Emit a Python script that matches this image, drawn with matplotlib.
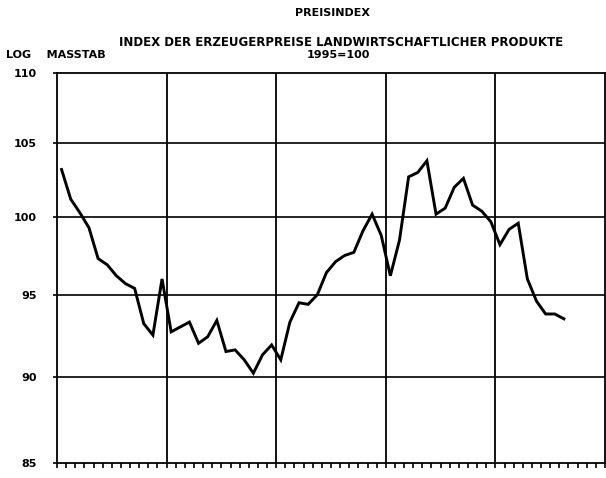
import matplotlib
matplotlib.use("Agg")
import matplotlib.pyplot as plt
from matplotlib.ticker import FixedLocator, NullLocator

# monthly index values, 1995=100
values = [103.2, 101.2, 100.3, 99.3, 97.3, 96.9, 96.2, 95.7, 95.4, 93.2,
          92.5, 96.0, 92.7, 93.0, 93.3, 92.0, 92.4, 93.4, 91.5, 91.6,
          91.0, 90.2, 91.3, 91.9, 91.0, 93.3, 94.5, 94.4, 95.0, 96.4,
          97.1, 97.5, 97.7, 99.1, 100.2, 98.8, 96.2, 98.5, 102.7, 103.0,
          103.8, 100.2, 100.6, 102.0, 102.6, 100.8, 100.4, 99.7, 98.2, 99.2,
          99.6, 96.0, 94.6, 93.8, 93.8, 93.5]
months = [i + 0.5 for i in range(len(values))]
n_months = 60
y_ticks = [85, 90, 95, 100, 105, 110]
y_labels = ["85", "90", "95", "100", "105", "110"]

plt.rcParams['font.family'] = ['DejaVu Sans']
plt.rcParams['font.weight'] = 'bold'

fig = plt.figure(figsize=(6.06, 4.78), dpi=100)
ax = fig.add_axes([57 / 606, 1 - 463 / 478, 548 / 606, 390 / 478])

ax.set_yscale('log')
ax.set_ylim(85, 110)
ax.set_xlim(0, n_months)

# grid
for y in y_ticks[1:-1]:
    ax.axhline(y, color='black', lw=1.2, zorder=1)
for x in range(12, n_months, 12):
    ax.axvline(x, color='black', lw=1.3, zorder=1)

ax.plot(months, values, color='black', lw=2.1, solid_joinstyle='miter', zorder=3)

ax.yaxis.set_major_locator(FixedLocator(y_ticks))
ax.yaxis.set_minor_locator(NullLocator())
ax.set_yticklabels(y_labels, fontsize=8, fontweight='bold')
ax.tick_params(axis='y', length=3, width=1.2, pad=11.5)

ax.xaxis.set_major_locator(FixedLocator(range(0, n_months + 1)))
ax.xaxis.set_minor_locator(NullLocator())
ax.tick_params(axis='x', length=3.6, width=1.2, labelbottom=False)

for side in ['left', 'bottom', 'top', 'right']:
    ax.spines[side].set_linewidth(1.3)

fig.text(333 / 606, 1 - 13 / 478, "PREISINDEX", ha='center', va='center',
         fontsize=8, fontweight='bold')
fig.text(341 / 606, 1 - 42 / 478,
         "INDEX DER ERZEUGERPREISE LANDWIRTSCHAFTLICHER PRODUKTE",
         ha='center', va='center', fontsize=8.5, fontweight='bold')
fig.text(338 / 606, 1 - 55 / 478, "1995=100", ha='center', va='center',
         fontsize=8, fontweight='bold')
fig.text(6 / 606, 1 - 55 / 478, "LOG    MASSTAB", ha='left', va='center',
         fontsize=8, fontweight='bold')

fig.savefig("out.png", dpi=100)
